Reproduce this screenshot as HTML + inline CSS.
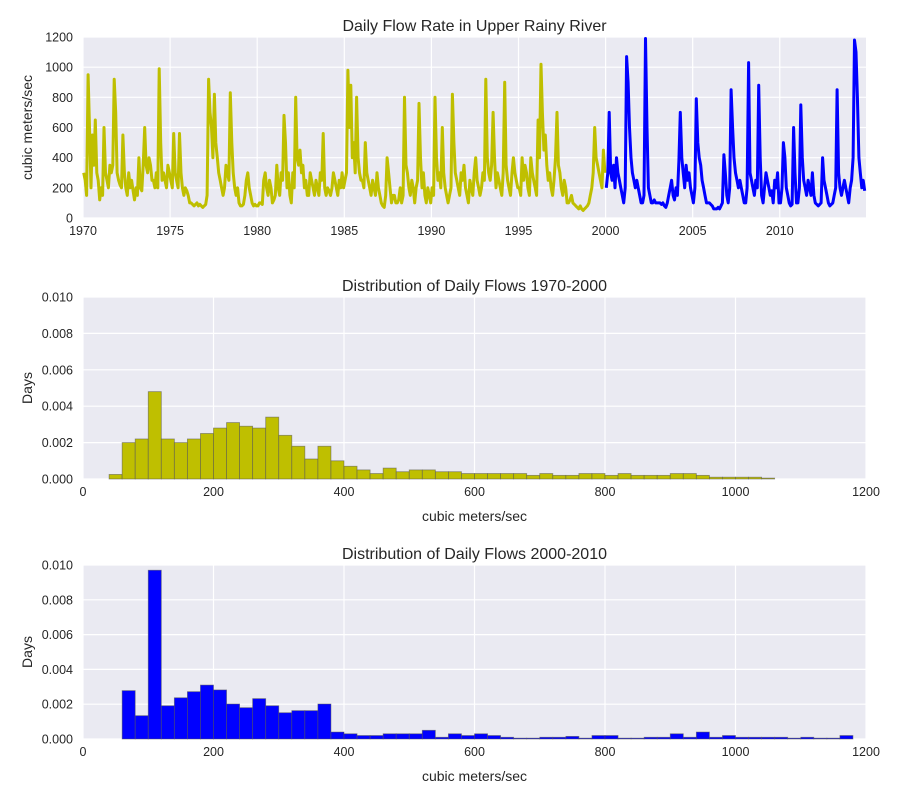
<!DOCTYPE html>
<html><head><meta charset="utf-8">
<style>
html,body{margin:0;padding:0;background:#fff;}
svg text{font-family:"Liberation Sans",Arial,sans-serif;fill:#262626;}
</style></head>
<body>
<svg id="chart" width="900" height="800" xmlns="http://www.w3.org/2000/svg"></svg>
<script>
// ---- Data ----
const startYear = 1970;
const yellowMonthly = [
300,250,150,950,600,200,550,350,650,300,250,120,
200,150,600,300,250,200,350,300,350,920,700,300,
250,220,200,550,300,200,150,300,200,250,180,120,
200,150,400,200,180,350,600,350,300,400,350,250,
250,200,300,200,990,500,250,300,250,200,350,300,
250,200,560,300,250,200,560,300,200,150,200,180,
150,100,100,90,80,90,100,80,90,80,70,80,
90,150,920,700,600,400,820,500,400,300,250,200,
150,200,350,300,250,830,500,300,200,150,200,100,
80,80,90,150,250,300,200,150,100,80,90,80,
80,100,100,90,250,300,200,150,250,200,100,120,
150,350,200,150,300,250,680,500,200,300,150,100,
300,200,800,400,350,450,300,350,200,250,150,150,
300,250,200,150,250,200,150,300,250,560,200,150,
200,180,150,200,300,250,200,150,250,200,300,200,
250,300,980,600,880,400,500,300,800,400,300,250,
250,200,500,300,250,200,150,250,200,150,300,200,
150,100,80,70,150,400,300,200,100,150,150,100,
100,120,200,100,150,800,350,300,200,150,250,200,
100,200,250,760,400,200,300,150,100,200,150,100,
200,150,800,400,250,300,200,600,300,200,150,100,
150,200,820,500,300,250,200,150,300,250,350,200,
150,100,250,200,150,300,400,250,200,150,200,300,
250,920,400,300,250,350,700,400,200,300,250,200,
150,300,900,350,250,200,150,300,400,300,250,200,
200,150,400,250,350,300,200,150,400,300,250,200,
150,650,400,1020,700,450,550,350,250,300,200,150,
250,400,700,350,300,200,150,250,200,100,100,120,
150,100,90,80,70,60,80,60,50,60,70,80,
100,150,200,300,600,400,350,300,250,200,450,300
];
const blueMonthly = [
200,300,700,300,250,350,200,400,300,250,200,150,
100,200,1070,900,600,400,300,250,200,250,200,150,
100,100,150,1190,600,200,150,100,100,120,100,100,
100,100,90,100,80,70,100,150,200,250,150,120,
200,150,380,700,400,300,200,350,250,300,200,150,
100,200,790,500,400,350,250,200,150,100,100,100,
90,80,60,60,60,70,60,80,100,420,300,150,
100,200,850,600,400,300,250,200,250,200,150,100,
100,200,1030,300,250,200,150,250,200,880,400,150,
100,200,300,250,200,150,180,100,250,200,300,100,
100,200,500,400,200,150,100,80,90,600,300,100,
100,200,750,400,250,200,150,250,200,150,300,150,
100,90,80,90,100,400,250,200,150,100,80,90,
100,150,200,850,300,200,150,200,250,200,150,100,
200,250,400,1180,1100,800,400,300,200,250,180
];
const hist1Start = 0, binWidth = 20;
const hist1Density = [0,0,0.00025,0.002,0.0022,0.0048,0.0022,0.002,0.0022,0.0025,0.0028,0.0031,0.0029,0.0028,0.0034,0.0024,0.0018,0.0011,0.0018,0.001,0.0007,0.0005,0.0003,0.0006,0.0004,0.0005,0.0005,0.0004,0.0004,0.0003,0.0003,0.0003,0.0003,0.0003,0.0002,0.0003,0.0002,0.0002,0.0003,0.0003,0.0002,0.0003,0.0002,0.0002,0.0002,0.0003,0.0003,0.0002,0.0001,0.0001,0.0001,0.0001,0.00005,0,0,0,0,0,0];
const hist2Start = 20;
const hist2Density = [0,0,0.00278,0.00134,0.0097,0.00191,0.00237,0.00272,0.0031,0.00282,0.00201,0.0018,0.00232,0.00191,0.00151,0.00163,0.00163,0.00201,0.0004,0.0003,0.0002,0.0002,0.0003,0.0003,0.0003,0.0005,0.0001,0.0003,0.0002,0.0003,0.0002,0.0001,0.00005,0.00005,0.0001,0.0001,0.00015,0.00005,0.0002,0.0002,0.00005,0.00005,0.0001,0.0001,0.0003,0.0001,0.0004,0.0001,0.0002,0.0001,0.0001,0.0001,0.0001,0.00005,0.0001,0.00005,0.00005,0.0002];
const yearTicks = [1970,1975,1980,1985,1990,1995,2000,2005,2010];
const flowTicks = [0,200,400,600,800,1000,1200];
const densTicks = [0,0.002,0.004,0.006,0.008,0.010];
const histXTicks = [0,200,400,600,800,1000,1200];

// ---- Drawing ----
const NS = "http://www.w3.org/2000/svg";
const svg = document.getElementById('chart');
function el(tag, attrs, parent){const e=document.createElementNS(NS,tag);for(const k in attrs)e.setAttribute(k,attrs[k]);(parent||svg).appendChild(e);return e;}
function txt(s, attrs, parent){const t=el('text',attrs,parent);t.textContent=s;return t;}

function panel(name, L, T, R, B, xs, ys, xticks, yticks, xfmt, yfmt, title, xlabel, ylabel){
  const g = el('g',{});
  
  
  const bg = el('rect',{x:L,y:T,width:R-L,height:B-T,fill:'#EAEAF2'},g);
  
  
  xticks.forEach(v=>{
    const x=xs(v);
    el('line',{x1:x,x2:x,y1:T,y2:B,stroke:'#fff','stroke-width':1.2},g);
    const t=txt(xfmt(v),{x:x,y:B+17,'font-size':12.5,'text-anchor':'middle'},g);
    
    
  });
  yticks.forEach(v=>{
    const y=ys(v);
    el('line',{x1:L,x2:R,y1:y,y2:y,stroke:'#fff','stroke-width':1.2},g);
    const t=txt(yfmt(v),{x:L-10,y:y+4.5,'font-size':12.5,'text-anchor':'end'},g);
    
    
  });
  const tt=txt(title,{x:(L+R)/2,y:T-6,'font-size':16,'text-anchor':'middle'},g);
  
  
  if(xlabel){const xl=txt(xlabel,{x:(L+R)/2,y:B+42,'font-size':14,'text-anchor':'middle'},g);
    
    }
  const yl=txt(ylabel,{x:0,y:0,'font-size':14,'text-anchor':'middle',transform:`translate(${L-51},${(T+B)/2}) rotate(-90)`},g);
  
  
  return g;
}

// Panel 1: time series
{
  const L=83,R=866,T=37,B=218;
  const xs=y=>L+(y-1970)*(R-L)/(2014.95-1970);
  const ys=v=>B-v*(B-T)/1200;
  const g=panel('flow-timeseries',L,T,R,B,xs,ys,yearTicks,flowTicks,String,String,'Daily Flow Rate in Upper Rainy River',null,'cubic meters/sec');
  const pts1=yellowMonthly.map((v,i)=>`${xs(startYear+(i+0.5)/12).toFixed(1)},${ys(v).toFixed(1)}`);
  const p1=el('polyline',{points:pts1.join(' '),fill:'none',stroke:'#BFBF00','stroke-width':3,'stroke-linejoin':'round'},g);
  
  
  const pts2=blueMonthly.map((v,i)=>`${xs(2000+(i+0.5)/12).toFixed(1)},${ys(v).toFixed(1)}`);
  const p2=el('polyline',{points:pts2.join(' '),fill:'none',stroke:'#0000FF','stroke-width':3,'stroke-linejoin':'round'},g);
  
  
}
function hist(name,T,B,start,dens,color,title){
  const L=83,R=866;
  const xs=v=>L+v*(R-L)/1200;
  const ys=v=>B-v*(B-T)/0.010;
  const g=panel(name,L,T,R,B,xs,ys,histXTicks,densTicks,String,v=>v.toFixed(3),title,'cubic meters/sec','Days');
  dens.forEach((d,i)=>{
    const x0=xs(start+i*binWidth),x1=xs(start+(i+1)*binWidth);
    const r=el('rect',{x:x0,y:ys(d),width:x1-x0,height:B-ys(d),fill:color,stroke:'#555','stroke-opacity':0.6,'stroke-width':0.8},g);
    
    
  });
}
hist('hist-1970-2000',297,479,hist1Start,hist1Density,'#BFBF00','Distribution of Daily Flows 1970-2000');
hist('hist-2000-2010',565,739,hist2Start,hist2Density,'#0000FF','Distribution of Daily Flows 2000-2010');
</script>
</body></html>
